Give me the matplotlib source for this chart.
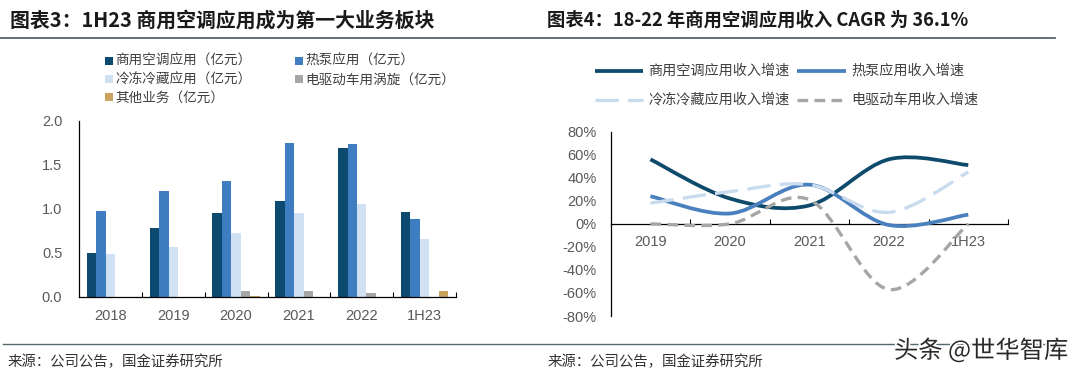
import numpy as np
import matplotlib
matplotlib.use("Agg")
import matplotlib.pyplot as plt
from matplotlib.path import Path
from matplotlib.patches import PathPatch, Rectangle
from matplotlib.lines import Line2D
import matplotlib.patheffects as pe

plt.rcParams['font.family'] = ['Liberation Sans', 'Noto Sans CJK SC', 'DejaVu Sans']
CJK = ['Noto Sans CJK SC', 'DejaVu Sans']

# ---------------- data ----------------
bar_cats = ['2018', '2019', '2020', '2021', '2022', '1H23']
bar_names = ['商用空调应用（亿元）', '热泵应用（亿元）', '冷冻冷藏应用（亿元）',
             '电驱动车用涡旋（亿元）', '其他业务（亿元）']
commercial_ac = [0.50, 0.78, 0.95, 1.09, 1.69, 0.96]
heat_pump = [0.97, 1.20, 1.31, 1.75, 1.74, 0.88]
cold_chain = [0.48, 0.56, 0.72, 0.95, 1.05, 0.66]
ev_scroll = [0.0, 0.0, 0.06, 0.065, 0.04, 0.0]
others = [0.0, 0.0, 0.012, 0.0, 0.0, 0.065]
bar_series = [commercial_ac, heat_pump, cold_chain, ev_scroll, others]
bar_colors = ['#0C4A70', '#3D7DC0', '#CFE1F3', '#A6A6A6', '#C8A45E']

line_cats = ['2019', '2020', '2021', '2022', '1H23']
line_names = ['商用空调应用收入增速', '热泵应用收入增速', '冷冻冷藏应用收入增速', '电驱动车用收入增速']
g_commercial = [56, 22, 16, 56, 51]
g_heat_pump = [24, 9, 34, -1, 8]
g_cold_chain = [18, 28, 34, 10, 45]
g_ev = [0, 0, 21, -57, 0]
line_series = [g_commercial, g_heat_pump, g_cold_chain, g_ev]
line_colors = ['#0E4A6C', '#4A80BE', '#C9DCEF', '#A6A6A6']
line_styles = ['-', '-', (0, (7, 2.8)), (0, (3.2, 1.9))]
line_widths = [2.7, 2.7, 2.4, 2.4]

W, H = 1080, 380
fig = plt.figure(figsize=(W / 100, H / 100), dpi=100)


def fx(px):
    return px / W


def fy(py):
    return 1 - py / H


tick_color = '#595959'
text_color = '#404040'

# ---------------- titles & rules ----------------
fig.text(fx(10), fy(20), '图表3：1H23 商用空调应用成为第一大业务板块', family=CJK,
         fontsize=14.3, fontweight='bold', color='#1a1a1a', va='center', ha='left')
fig.text(fx(547), fy(20), '图表4：18-22 年商用空调应用收入 CAGR 为 36.1%', family=CJK,
         fontsize=13.2, fontweight='bold', color='#1a1a1a', va='center', ha='left')
fig.add_artist(Line2D([fx(0), fx(1055)], [fy(38.3), fy(38.3)], color='#55676E', lw=1.3,
                      transform=fig.transFigure))
fig.add_artist(Line2D([fx(3), fx(1055)], [fy(344), fy(344)], color='#55676E', lw=1.0,
                      transform=fig.transFigure))
fig.text(fx(8), fy(361.5), '来源：公司公告，国金证券研究所', family=CJK, fontsize=10.4,
         color='#333333', va='center', ha='left')
fig.text(fx(548), fy(361.5), '来源：公司公告，国金证券研究所', family=CJK, fontsize=10.4,
         color='#333333', va='center', ha='left')
wm = fig.text(fx(1068), fy(351), '头条 @世华智库', family=CJK, fontsize=17.5,
              color='#2a2a2a', va='center', ha='right')
wm.set_path_effects([pe.withStroke(linewidth=2.5, foreground='white')])

# ---------------- left: bars ----------------
ax1 = fig.add_axes([fx(79), fy(296.7), fx(456) - fx(79), fy(120.7) - fy(296.7)])
x = np.arange(len(bar_cats))
n = len(bar_series)
bw = 0.151
for i, (vals, col) in enumerate(zip(bar_series, bar_colors)):
    ax1.bar(x + (i - (n - 1) / 2) * bw, vals, width=bw, color=col, linewidth=0, zorder=2)
ax1.set_xlim(-0.5, len(bar_cats) - 0.5)
ax1.set_ylim(0, 2.0)
ax1.set_yticks([0, 0.5, 1.0, 1.5, 2.0])
ax1.set_yticklabels([f'{v:.1f}' for v in [0, 0.5, 1.0, 1.5, 2.0]])
ax1.set_xticks(x)
ax1.set_xticklabels(bar_cats)
ax1.set_xticks(np.arange(0.5, len(bar_cats) - 0.4, 1), minor=True)
ax1.tick_params(axis='x', which='major', length=0, pad=9, labelsize=10.5, labelcolor=tick_color)
ax1.tick_params(axis='x', which='minor', direction='in', length=3.5, width=0.8, color='#000000')
ax1.tick_params(axis='y', length=0, pad=12, labelsize=10.5, labelcolor=tick_color)
for s in ['top', 'right']:
    ax1.spines[s].set_visible(False)
for s in ['left', 'bottom']:
    ax1.spines[s].set_color('#000000')
    ax1.spines[s].set_linewidth(0.9)

# left legend (manual placement)
leg_pos = [(105, 60.7), (295, 60.7), (105, 79.3), (295, 79.3), (105, 97.3)]
for (px, py), name, col in zip(leg_pos, bar_names, bar_colors):
    fig.add_artist(Rectangle((fx(px), fy(py + 4)), fx(8), fy(0) - fy(8), color=col,
                             transform=fig.transFigure, linewidth=0))
    fig.text(fx(px + 10), fy(py), name, family=CJK, fontsize=9.8, color=text_color,
             va='center', ha='left')

# ---------------- right: smooth lines ----------------
ax2 = fig.add_axes([fx(610.7), fy(316), fx(1008) - fx(610.7), fy(131.7) - fy(316)])


def smooth_path(xs, ys):
    pts = np.column_stack([xs, ys]).astype(float)
    verts = [pts[0]]
    codes = [Path.MOVETO]
    m = len(pts)
    for i in range(m - 1):
        p0 = pts[i - 1] if i > 0 else pts[i]
        p1 = pts[i]
        p2 = pts[i + 1]
        p3 = pts[i + 2] if i + 2 < m else pts[i + 1]
        c1 = p1 + (p2 - p0) / 6.0
        c2 = p2 - (p3 - p1) / 6.0
        verts += [c1, c2, p2]
        codes += [Path.CURVE4] * 3
    return Path(verts, codes)


xl = np.arange(len(line_cats))
for vals, col, ls, lw in zip(line_series, line_colors, line_styles, line_widths):
    patch = PathPatch(smooth_path(xl, vals), fill=False, edgecolor=col, linewidth=lw,
                      linestyle=ls, capstyle='butt', joinstyle='round', zorder=3)
    ax2.add_patch(patch)

ax2.set_xlim(-0.5, len(line_cats) - 0.5)
ax2.set_ylim(-80, 80)
yt = list(range(-80, 81, 20))
ax2.set_yticks(yt)
ax2.set_yticklabels([f'{v}%' for v in yt])
ax2.set_xticks(xl)
ax2.set_xticklabels(line_cats)
ax2.set_xticks(np.arange(0.5, len(line_cats) - 0.4, 1), minor=True)
ax2.spines['bottom'].set_position(('data', 0))
for s in ['top', 'right']:
    ax2.spines[s].set_visible(False)
for s in ['left', 'bottom']:
    ax2.spines[s].set_color('#000000')
    ax2.spines[s].set_linewidth(0.9)
ax2.tick_params(axis='x', which='major', length=0, pad=8, labelsize=10.5, labelcolor=tick_color)
ax2.tick_params(axis='x', which='minor', direction='in', length=3.8, width=0.8, color='#000000')
ax2.tick_params(axis='y', length=0, pad=10, labelsize=10.5, labelcolor=tick_color)

# right legend (manual placement)
rleg = [((595, 643.3), 70.7, 648.3), ((796.7, 846), 70.7, 851.7),
        ((595, 643.3), 100, 648.3), ((796.7, 846), 100, 851.7)]
for ((x0, x1), py, tx), name, col, ls, lw in zip(rleg, line_names, line_colors, line_styles, line_widths):
    fig.add_artist(Line2D([fx(x0), fx(x1)], [fy(py), fy(py)], color=col, lw=lw, linestyle=ls,
                          solid_capstyle='butt', dash_capstyle='butt', transform=fig.transFigure))
    fig.text(fx(tx), fy(py), name, family=CJK, fontsize=10.2, color=text_color,
             va='center', ha='left')

fig.savefig('out.png', dpi=100)
